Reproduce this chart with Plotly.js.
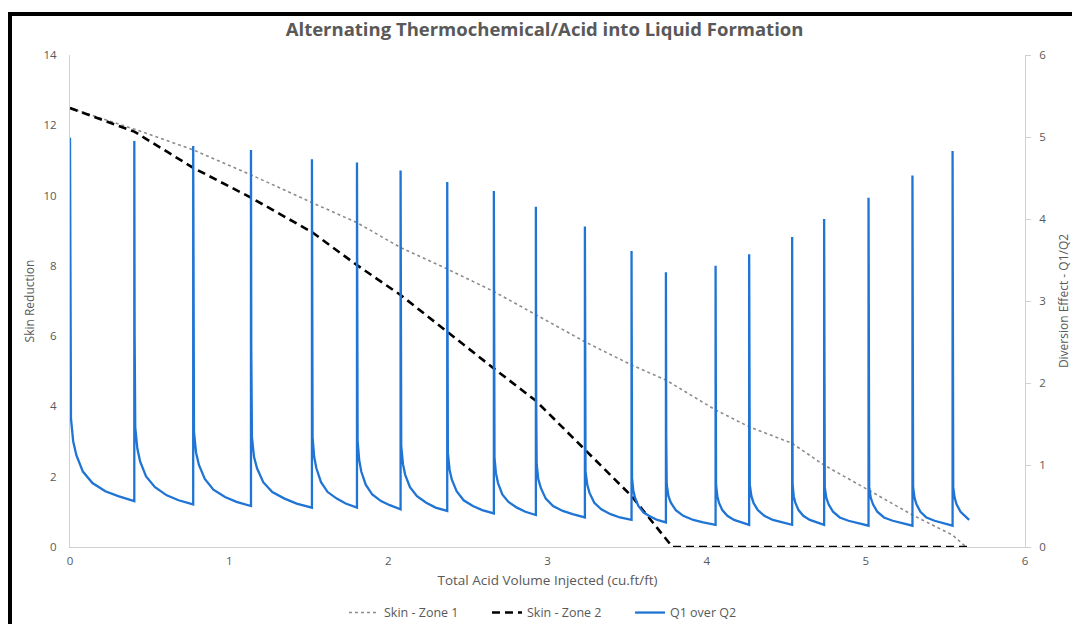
<!DOCTYPE html>
<html>
<head>
<meta charset="utf-8">
<script src="https://cdn.plot.ly/plotly-3.0.1.min.js"></script>
<style>
  html, body { margin: 0; padding: 0; background: #ffffff; }
  #wrap { position: relative; width: 1072px; height: 624px; overflow: hidden; }
  #chart { position: absolute; left: 0; top: 0; width: 1072px; height: 624px; }
  #bTop { position: absolute; left: 8px; top: 12px; width: 1064px; height: 4px; background: #000; }
  #bLeft { position: absolute; left: 8px; top: 12px; width: 4px; height: 612px; background: #000; }
</style>
</head>
<body>
<div id="wrap">
  <div id="chart"></div>
  <div id="bTop"></div>
  <div id="bLeft"></div>
</div>
<script>
// Skin - Zone 1 (left axis)
const zone1X = [0, 0.404, 0.774, 1.137, 1.520, 1.803, 2.077, 2.370, 2.663, 2.927, 3.235, 3.528, 3.744, 4.056, 4.267, 4.537, 4.738, 5.017, 5.293, 5.545, 5.630];
const zone1Y = [12.49, 11.89, 11.30, 10.59, 9.80, 9.23, 8.52, 7.91, 7.27, 6.62, 5.84, 5.18, 4.75, 3.90, 3.42, 2.95, 2.33, 1.62, 0.91, 0.34, 0];

// Skin - Zone 2 (left axis)
const zone2X = [0, 0.404, 0.774, 1.137, 1.520, 1.803, 2.077, 2.370, 2.663, 2.927, 3.235, 3.528, 3.785, 5.649];
const zone2Y = [12.49, 11.82, 10.79, 9.94, 8.96, 8.02, 7.17, 6.12, 5.08, 4.16, 2.76, 1.45, 0, 0];

// Q1 over Q2 (right axis, diversion effect), one row per injection cycle
const qX = [
  0.000, 0.002, 0.006, 0.020, 0.040, 0.081, 0.141, 0.222, 0.303, 0.404,
  0.404, 0.406, 0.410, 0.423, 0.441, 0.478, 0.534, 0.608, 0.682, 0.774,
  0.774, 0.776, 0.779, 0.792, 0.810, 0.847, 0.901, 0.974, 1.046, 1.137,
  1.137, 1.139, 1.143, 1.156, 1.175, 1.214, 1.271, 1.348, 1.424, 1.520,
  1.520, 1.521, 1.524, 1.534, 1.548, 1.577, 1.619, 1.676, 1.732, 1.803,
  1.803, 1.804, 1.807, 1.817, 1.830, 1.858, 1.899, 1.954, 2.009, 2.077,
  2.077, 2.078, 2.081, 2.092, 2.106, 2.136, 2.180, 2.238, 2.297, 2.370,
  2.370, 2.371, 2.374, 2.385, 2.399, 2.429, 2.473, 2.531, 2.590, 2.663,
  2.663, 2.664, 2.667, 2.676, 2.689, 2.716, 2.755, 2.808, 2.861, 2.927,
  2.927, 2.929, 2.932, 2.942, 2.958, 2.989, 3.035, 3.096, 3.158, 3.235,
  3.235, 3.236, 3.239, 3.250, 3.264, 3.294, 3.338, 3.396, 3.455, 3.528,
  3.528, 3.529, 3.531, 3.539, 3.550, 3.571, 3.604, 3.647, 3.690, 3.744,
  3.744, 3.746, 3.749, 3.760, 3.775, 3.806, 3.853, 3.916, 3.978, 4.056,
  4.056, 4.057, 4.059, 4.067, 4.077, 4.098, 4.130, 4.172, 4.214, 4.267,
  4.267, 4.268, 4.271, 4.281, 4.294, 4.321, 4.362, 4.416, 4.470, 4.537,
  4.537, 4.538, 4.540, 4.547, 4.557, 4.577, 4.607, 4.648, 4.688, 4.738,
  4.738, 4.739, 4.742, 4.752, 4.766, 4.794, 4.836, 4.891, 4.947, 5.017,
  5.017, 5.018, 5.021, 5.031, 5.045, 5.072, 5.114, 5.169, 5.224, 5.293,
  5.293, 5.294, 5.297, 5.306, 5.318, 5.343, 5.381, 5.432, 5.482, 5.545,
  5.545, 5.546, 5.549, 5.558, 5.570, 5.595, 5.633, 5.649
];
const qY = [
  4.99, 2.80, 1.57, 1.29, 1.12, 0.92, 0.78, 0.68, 0.62, 0.56,
  4.95, 2.60, 1.46, 1.20, 1.04, 0.86, 0.73, 0.63, 0.57, 0.52,
  4.89, 2.50, 1.40, 1.15, 1.00, 0.83, 0.70, 0.61, 0.55, 0.50,
  4.84, 2.40, 1.34, 1.10, 0.96, 0.79, 0.67, 0.59, 0.53, 0.48,
  4.73, 2.40, 1.34, 1.10, 0.96, 0.79, 0.67, 0.59, 0.53, 0.48,
  4.69, 2.30, 1.29, 1.06, 0.92, 0.76, 0.64, 0.56, 0.51, 0.46,
  4.59, 2.20, 1.23, 1.01, 0.88, 0.73, 0.62, 0.54, 0.48, 0.44,
  4.45, 2.05, 1.15, 0.94, 0.82, 0.68, 0.57, 0.50, 0.45, 0.41,
  4.34, 1.95, 1.09, 0.90, 0.78, 0.64, 0.55, 0.48, 0.43, 0.39,
  4.15, 1.80, 1.01, 0.83, 0.72, 0.59, 0.50, 0.44, 0.40, 0.36,
  3.91, 1.65, 0.92, 0.76, 0.66, 0.54, 0.46, 0.40, 0.36, 0.33,
  3.61, 1.50, 0.84, 0.69, 0.60, 0.50, 0.42, 0.37, 0.33, 0.30,
  3.35, 1.35, 0.76, 0.62, 0.54, 0.45, 0.38, 0.33, 0.30, 0.27,
  3.43, 1.35, 0.76, 0.62, 0.54, 0.45, 0.38, 0.33, 0.30, 0.27,
  3.57, 1.35, 0.76, 0.62, 0.54, 0.45, 0.38, 0.33, 0.30, 0.27,
  3.78, 1.35, 0.76, 0.62, 0.54, 0.45, 0.38, 0.33, 0.30, 0.27,
  4.00, 1.30, 0.73, 0.60, 0.52, 0.43, 0.36, 0.32, 0.29, 0.26,
  4.26, 1.30, 0.73, 0.60, 0.52, 0.43, 0.36, 0.32, 0.29, 0.26,
  4.53, 1.30, 0.73, 0.60, 0.52, 0.43, 0.36, 0.32, 0.29, 0.26,
  4.83, 1.30, 0.73, 0.60, 0.52, 0.43, 0.36, 0.33
];

const xTicks = [0, 1, 2, 3, 4, 5, 6];
const yLeftTicks = [0, 2, 4, 6, 8, 10, 12, 14];
const yRightTicks = [0, 1, 2, 3, 4, 5, 6];

const FONT = "Open Sans, Noto Sans, sans-serif";
const GREY = "#595959";
const AXIS = "#d0d0d0";

const traces = [
  {
    x: zone1X, y: zone1Y, name: "Skin - Zone 1", type: "scatter", mode: "lines",
    line: { color: "#8c8c8c", width: 1.6, dash: "dot" }, yaxis: "y"
  },
  {
    x: zone2X, y: zone2Y, name: "Skin - Zone 2", type: "scatter", mode: "lines",
    line: { color: "#000000", width: 2.6, dash: "8px,5px" }, yaxis: "y"
  },
  {
    x: qX, y: qY, name: "Q1 over Q2", type: "scatter", mode: "lines",
    line: { color: "#1f74d4", width: 2.3 }, yaxis: "y2"
  }
];

const layout = {
  width: 1072, height: 624,
  paper_bgcolor: "#ffffff", plot_bgcolor: "#ffffff",
  margin: { l: 70, r: 47, t: 55, b: 77, pad: 0, autoexpand: false },
  font: { family: FONT, color: GREY, size: 11 },
  title: {
    text: "Alternating Thermochemical/Acid into Liquid Formation",
    font: { family: FONT, size: 18.5, color: GREY, weight: "bold" },
    x: 0.508, xanchor: "center", y: 0.952, yanchor: "middle"
  },
  showlegend: true,
  legend: {
    orientation: "h", x: 0.5115, xanchor: "center", y: -0.134, yanchor: "middle",
    entrywidth: 98, entrywidthmode: "pixels",
    font: { family: FONT, size: 12.5, color: GREY }, traceorder: "normal"
  },
  xaxis: {
    range: [0, 6], tickvals: xTicks, ticktext: xTicks.map(String),
    showline: true, linecolor: AXIS, linewidth: 1, showgrid: false, zeroline: false,
    ticks: "", ticklabelstandoff: 3, tickfont: { family: FONT, size: 11.5, color: GREY },
    title: { text: "Total Acid Volume Injected (cu.ft/ft)", font: { family: FONT, size: 13.5, color: GREY }, standoff: 8 },
    fixedrange: true
  },
  yaxis: {
    range: [0, 14], tickvals: yLeftTicks, ticktext: yLeftTicks.map(String),
    showline: true, linecolor: AXIS, linewidth: 1, showgrid: false, zeroline: false,
    ticks: "", ticklabelstandoff: 10, tickfont: { family: FONT, size: 11.5, color: GREY },
    title: { text: "Skin Reduction", font: { family: FONT, size: 12, color: GREY }, standoff: 6 },
    fixedrange: true
  },
  yaxis2: {
    range: [0, 6], tickvals: yRightTicks, ticktext: yRightTicks.map(String),
    overlaying: "y", side: "right",
    showline: true, linecolor: AXIS, linewidth: 1, showgrid: false, zeroline: false,
    ticks: "outside", ticklen: 5, tickcolor: AXIS, ticklabelstandoff: 6,
    tickfont: { family: FONT, size: 11.5, color: GREY },
    title: { text: "Diversion Effect - Q1/Q2", font: { family: FONT, size: 12, color: GREY }, standoff: 14 },
    fixedrange: true
  }
};

Plotly.newPlot("chart", traces, layout, { displayModeBar: false, staticPlot: true });
</script>
</body>
</html>
